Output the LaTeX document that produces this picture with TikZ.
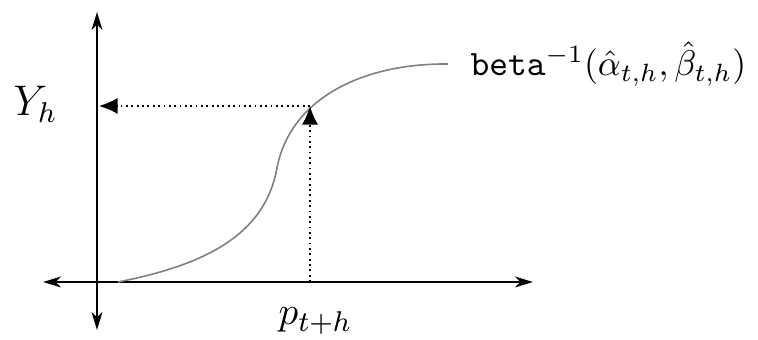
\documentclass[tikz,border=0pt]{standalone}
\usetikzlibrary{arrows.meta}
\begin{document}
\begin{tikzpicture}[x=0.28pt,y=-0.28pt,
  axis/.style={line width=0.75pt,{Stealth[length=5pt,width=3pt,inset=1.5pt]}-{Stealth[length=5pt,width=3pt,inset=1.5pt]}},
  curvestyle/.style={line width=0.45pt,draw=gray},
  guide/.style={line width=0.5pt,densely dotted,-{Latex[length=5.2pt,width=4.5pt]}}]
\useasboundingbox (0,0) rectangle (758,340);
% axes
\coordinate (vtop) at (97,12);
\coordinate (vbot) at (97,330);
\coordinate (hl) at (43,282);
\coordinate (hr) at (533,282);
\draw[axis] (vbot) -- (vtop);
\draw[axis] (hl) -- (hr);
% curve
\coordinate (c0) at (118,282);
\coordinate (cm) at (277,168);
\coordinate (cend) at (448,64);
\draw[curvestyle] (c0) .. controls (205,265) and (265,235) .. (cm)
  .. controls (290,100) and (360,64) .. (445,64) -- (cend);
\node[anchor=west,inner sep=0pt] (lbl) at (470,64) {$\texttt{beta}^{-1}(\hat{\alpha}_{t,h},\hat{\beta}_{t,h})$};
% guides
\coordinate (px) at (310,282);
\coordinate (pc) at (310,106);
\coordinate (py) at (99,106);
\draw[guide] (px) -- (pc);
\draw[guide] (pc) -- (py);
% labels
\node[anchor=base west,inner sep=0pt,font=\large] (yh) at (13,116) {$Y_h$};
\node[anchor=base west,inner sep=0pt,font=\fontsize{10.8}{13}\selectfont] (pt) at (278,325) {$p_{t+h}$};
\end{tikzpicture}
\end{document}
